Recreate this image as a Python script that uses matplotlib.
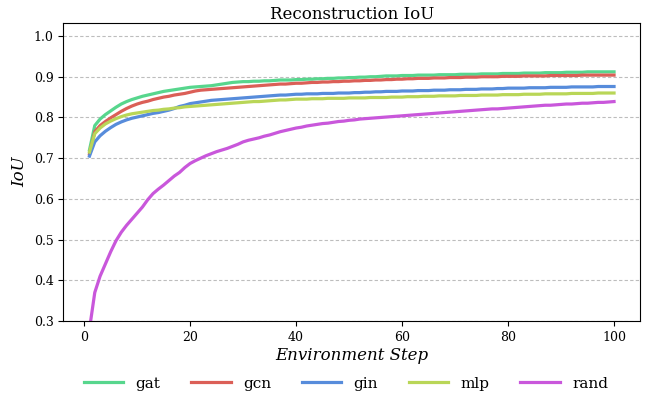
import numpy as np
import matplotlib
matplotlib.use("Agg")
import matplotlib.pyplot as plt

# Reconstruction IoU per environment step
steps = list(range(1, 101))
labels = ["gat", "gcn", "gin", "mlp", "rand"]

gat = [0.720, 0.780, 0.796, 0.807, 0.816, 0.825, 0.833, 0.839, 0.844, 0.848,
       0.852, 0.855, 0.858, 0.861, 0.864, 0.866, 0.868, 0.870, 0.872, 0.874,
       0.875, 0.876, 0.877, 0.878, 0.880, 0.882, 0.884, 0.886, 0.887, 0.888,
       0.888, 0.889, 0.889, 0.890, 0.890, 0.891, 0.892, 0.892, 0.892, 0.893,
       0.893, 0.894, 0.894, 0.895, 0.895, 0.896, 0.896, 0.897, 0.897, 0.898,
       0.898, 0.899, 0.899, 0.900, 0.900, 0.901, 0.902, 0.902, 0.902, 0.903,
       0.903, 0.903, 0.904, 0.904, 0.904, 0.904, 0.905, 0.905, 0.905, 0.905,
       0.906, 0.906, 0.906, 0.906, 0.907, 0.907, 0.907, 0.907, 0.908, 0.908,
       0.908, 0.908, 0.909, 0.909, 0.909, 0.909, 0.910, 0.910, 0.910, 0.910,
       0.911, 0.911, 0.911, 0.911, 0.912, 0.912, 0.912, 0.912, 0.912, 0.912]

gcn = [0.710, 0.765, 0.780, 0.790, 0.799, 0.807, 0.815, 0.822, 0.828, 0.833,
       0.837, 0.840, 0.844, 0.847, 0.850, 0.852, 0.855, 0.857, 0.859, 0.862,
       0.865, 0.867, 0.868, 0.869, 0.870, 0.871, 0.872, 0.873, 0.874, 0.875,
       0.876, 0.877, 0.878, 0.879, 0.880, 0.881, 0.882, 0.882, 0.883, 0.884,
       0.884, 0.885, 0.886, 0.886, 0.887, 0.887, 0.888, 0.888, 0.889, 0.889,
       0.890, 0.890, 0.891, 0.891, 0.892, 0.892, 0.893, 0.893, 0.894, 0.894,
       0.895, 0.895, 0.896, 0.896, 0.896, 0.897, 0.897, 0.897, 0.898, 0.898,
       0.898, 0.899, 0.899, 0.899, 0.900, 0.900, 0.900, 0.900, 0.901, 0.901,
       0.901, 0.901, 0.902, 0.902, 0.902, 0.902, 0.902, 0.903, 0.903, 0.903,
       0.903, 0.903, 0.903, 0.904, 0.904, 0.904, 0.904, 0.904, 0.904, 0.904]

gin = [0.705, 0.740, 0.755, 0.766, 0.775, 0.783, 0.789, 0.794, 0.798, 0.801,
       0.804, 0.807, 0.810, 0.812, 0.815, 0.818, 0.822, 0.827, 0.830, 0.834,
       0.836, 0.838, 0.840, 0.842, 0.843, 0.844, 0.845, 0.846, 0.847, 0.848,
       0.849, 0.850, 0.851, 0.852, 0.853, 0.854, 0.855, 0.855, 0.856, 0.857,
       0.857, 0.858, 0.858, 0.858, 0.859, 0.859, 0.859, 0.860, 0.860, 0.860,
       0.861, 0.861, 0.862, 0.862, 0.863, 0.863, 0.864, 0.864, 0.864, 0.865,
       0.865, 0.865, 0.866, 0.866, 0.866, 0.867, 0.867, 0.867, 0.868, 0.868,
       0.868, 0.869, 0.869, 0.869, 0.870, 0.870, 0.870, 0.871, 0.871, 0.872,
       0.872, 0.872, 0.872, 0.873, 0.873, 0.873, 0.873, 0.874, 0.874, 0.874,
       0.874, 0.875, 0.875, 0.875, 0.875, 0.875, 0.876, 0.876, 0.876, 0.876]

mlp = [0.715, 0.760, 0.774, 0.784, 0.791, 0.797, 0.802, 0.806, 0.809, 0.811,
       0.813, 0.815, 0.817, 0.818, 0.820, 0.821, 0.823, 0.824, 0.826, 0.827,
       0.828, 0.829, 0.830, 0.831, 0.832, 0.833, 0.834, 0.835, 0.836, 0.837,
       0.838, 0.839, 0.839, 0.840, 0.841, 0.842, 0.843, 0.843, 0.844, 0.845,
       0.845, 0.845, 0.846, 0.846, 0.846, 0.847, 0.847, 0.847, 0.847, 0.848,
       0.848, 0.848, 0.848, 0.849, 0.849, 0.849, 0.849, 0.850, 0.850, 0.850,
       0.851, 0.851, 0.851, 0.852, 0.852, 0.852, 0.853, 0.853, 0.853, 0.853,
       0.854, 0.854, 0.854, 0.854, 0.855, 0.855, 0.855, 0.855, 0.856, 0.856,
       0.856, 0.856, 0.857, 0.857, 0.857, 0.857, 0.858, 0.858, 0.858, 0.858,
       0.858, 0.859, 0.859, 0.859, 0.859, 0.859, 0.860, 0.860, 0.860, 0.860]

rand = [0.280, 0.370, 0.410, 0.440, 0.470, 0.497, 0.518, 0.535, 0.550, 0.565,
        0.580, 0.598, 0.613, 0.624, 0.634, 0.645, 0.656, 0.665, 0.677, 0.687,
        0.694, 0.700, 0.706, 0.711, 0.716, 0.720, 0.724, 0.729, 0.734, 0.740,
        0.744, 0.747, 0.750, 0.754, 0.757, 0.761, 0.765, 0.768, 0.771, 0.774,
        0.776, 0.779, 0.781, 0.783, 0.785, 0.786, 0.788, 0.790, 0.791, 0.793,
        0.794, 0.796, 0.797, 0.798, 0.799, 0.800, 0.801, 0.802, 0.803, 0.804,
        0.805, 0.806, 0.807, 0.808, 0.809, 0.810, 0.811, 0.812, 0.813, 0.814,
        0.815, 0.816, 0.817, 0.818, 0.819, 0.820, 0.821, 0.821, 0.822, 0.823,
        0.824, 0.825, 0.826, 0.827, 0.828, 0.829, 0.830, 0.830, 0.831, 0.832,
        0.833, 0.833, 0.834, 0.835, 0.835, 0.836, 0.837, 0.837, 0.838, 0.839]

# hls-like palette
colors = ["#57d68d", "#db5f57", "#578cdb", "#b9d657", "#c957db"]

plt.rcParams['font.family'] = ['DejaVu Serif']

fig = plt.figure(figsize=(6.52, 4.0), dpi=100)
ax = fig.add_axes([0.097, 0.1975, 0.885, 0.745])

series = [gat, gcn, gin, mlp, rand]
for s, lab, c in zip(series, labels, colors):
    ax.plot(steps, s, color=c, linewidth=2.3, label=lab)

ax.set_ylim(0.3, 1.032)
ax.set_yticks(np.arange(0.3, 1.01, 0.1))
ax.set_xticks([0, 20, 40, 60, 80, 100])
ax.yaxis.grid(True, linestyle=(0, (3, 2)), color='#bdbdbd', linewidth=0.8)
ax.set_axisbelow(True)
ax.tick_params(labelsize=9)

ax.set_title("Reconstruction IoU", fontsize=12, pad=3)
ax.set_xlabel("Environment Step", fontsize=12, style='italic', labelpad=2)
ax.set_ylabel("IoU", fontsize=12, style='italic')

ax.legend(loc='center', bbox_to_anchor=(0.49, -0.21), ncol=5,
          frameon=False, fontsize=11, handlelength=2.6, columnspacing=2.0)

fig.savefig("out.png", dpi=100)
